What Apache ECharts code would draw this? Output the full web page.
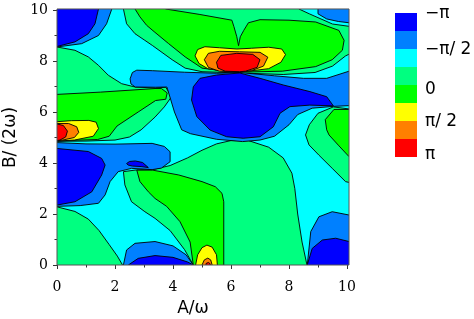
<!DOCTYPE html>
<html><head><meta charset="utf-8">
<script src="https://cdn.jsdelivr.net/npm/echarts@6/dist/echarts.min.js"></script>
<style>html,body{margin:0;padding:0;background:#fff}#c{width:474px;height:319px}</style>
</head><body><div id="c"></div><script>
// ---- data (A/ω , B/(2ω)) ----
const xTicks = [0, 2, 4, 6, 8, 10];
const yTicks = [0, 2, 4, 6, 8, 10];
const legendLabels = ['−π', '−π/ 2', '0', 'π/ 2', 'π'];
const levelColors = ['#0000ff', '#0080ff', '#00ffff', '#00ff80', '#00ff00', '#ffff00', '#ff8000', '#ff0000'];
// filled contour regions (boundary points in data units), level index 0 (−π) .. 7 (π)
const bgCyan = [[-1,-1],[11,-1],[11,11],[-1,11]];
const sgTop = [[2.27,10.4],[2.29,10.04],[2.4,9.46],[2.69,9.07],[3.03,8.81],[3.3,8.6],[3.97,8.05],[4.42,7.72],[5.0,7.58],[6.3,7.53],[7.8,7.47],[8.9,7.55],[9.5,7.8],[9.95,8.2],[10.4,8.45],[10.4,9.35],[10.07,9.36],[9.5,9.45],[9.0,9.7],[8.7,9.85],[8.34,10.04],[8.3,10.4]];
const sgLeft = [[-0.3,8.55],[0,8.55],[0.62,8.42],[1.08,8.16],[1.43,7.83],[1.77,7.44],[2.23,7.11],[2.69,6.98],[3.38,6.94],[3.75,6.97],[3.95,6.6],[3.7,6.2],[3.38,5.8],[2.9,5.3],[2.5,5.02],[2.0,4.9],[1.0,4.86],[0,4.85],[-0.3,4.85]];
const sgCenter = [[4.7,-0.3],[4.7,0],[4.4,0.6],[3.9,1.35],[3.38,1.83],[3.03,2.09],[2.57,2.48],[2.34,3.14],[2.29,3.66],[2.75,3.73],[3.3,3.74],[3.9,3.9],[4.5,4.2],[5.0,4.5],[5.5,4.75],[6.0,4.88],[6.6,4.88],[7.3,4.62],[7.8,4.2],[8.1,3.6],[8.2,3.0],[8.3,2.0],[8.45,0.9],[8.62,0],[8.62,-0.3]];
const sgRight = [[9.53,6.2],[9.0,5.95],[8.7,5.5],[8.57,5.1],[8.69,4.71],[9.03,4.31],[9.49,3.79],[9.95,3.27],[10.4,3.15],[10.4,6.12],[10.07,6.12]];
const sgBottomLeft = [[-0.3,2.3],[0,2.28],[0.62,2.1],[1.08,1.8],[1.45,1.35],[1.8,0.8],[2.08,0.35],[2.26,0],[2.26,-0.3],[-0.3,-0.3]];
const greenTop = [[2.67,10.4],[2.69,10.04],[2.86,9.73],[3.09,9.4],[3.35,9.15],[3.85,8.68],[4.42,8.16],[5.0,7.72],[5.6,7.63],[6.3,7.6],[6.62,7.57],[7.77,7.6],[8.92,7.78],[9.49,8.05],[9.84,8.42],[9.9,8.81],[9.72,9.2],[8.92,9.53],[8.0,9.6],[7.0,9.62],[6.6,9.5],[6.44,9.2],[6.32,8.95],[6.26,8.6],[6.2,8.95],[6.1,9.35],[6.03,9.6],[4.9,9.83],[3.74,10.04],[3.74,10.4]];
const greenLeft = [[-0.3,6.69],[0,6.69],[1.5,6.78],[3.38,6.92],[3.6,6.92],[3.8,6.75],[3.75,6.5],[3.4,6.45],[2.8,6.0],[2.07,5.45],[1.8,5.05],[1.4,4.92],[0,4.87],[-0.3,4.87]];
const greenBottom = [[2.75,3.72],[3.3,3.72],[4.2,3.53],[5.0,3.27],[5.46,3.07],[5.69,2.81],[5.75,2.48],[5.75,-0.3],[4.7,-0.3],[4.7,0],[4.59,0.9],[4.24,1.7],[3.78,2.3],[3.38,2.61],[3.15,2.87],[2.86,3.27]];
const greenRight = [[10.4,6.1],[9.55,6.1],[9.25,5.7],[9.3,5.3],[9.38,5.1],[9.7,4.7],[10.07,4.25],[10.4,4.2]];
const lbTopLeft = [[-0.3,10.4],[1.9,10.4],[1.89,10.04],[1.71,9.46],[1.43,9.0],[0.85,8.68],[0,8.55],[-0.3,8.55]];
const lbLeft = [[-0.3,4.8],[0,4.8],[1.0,4.75],[2.0,4.74],[3.28,4.77],[3.7,4.65],[3.9,4.44],[3.9,4.05],[3.6,3.8],[3.28,3.74],[2.57,3.79],[2.11,3.66],[1.83,3.27],[1.66,2.75],[1.43,2.42],[0.8,2.33],[0,2.3],[-0.3,2.3]];
const lbCenter = [[2.52,7.3],[2.6,7.55],[2.75,7.64],[3.3,7.62],[4.4,7.56],[5.5,7.52],[6.3,7.55],[7.5,7.42],[8.5,7.32],[9.3,7.32],[10.07,7.6],[10.4,7.62],[10.4,6.25],[10.07,6.25],[9.53,6.22],[8.8,6.15],[8.3,5.9],[8.0,5.5],[7.5,5.05],[7.0,4.9],[6.4,4.84],[5.5,4.93],[4.6,5.15],[4.3,5.3],[4.05,6.0],[3.79,6.98],[3.4,6.97],[2.7,6.98],[2.55,7.1]];
const lbTopRight = [[9.0,10.4],[9.0,9.85],[9.3,9.65],[9.7,9.55],[10.07,9.5],[10.4,9.5],[10.4,10.4]];
const lbBottomLeft = [[2.26,-0.3],[2.29,0],[2.4,0.59],[2.69,0.85],[3.38,0.92],[4.0,0.75],[4.45,0.4],[4.7,0],[4.7,-0.3]];
const lbBottomRight = [[8.62,-0.3],[8.63,0],[8.75,1.31],[9.03,1.89],[9.49,2.09],[10.07,1.96],[10.4,1.95],[10.4,-0.3]];
const blueTopLeft = [[-0.3,10.4],[1.45,10.4],[1.43,10.04],[1.31,9.46],[1.08,9.07],[0.62,8.75],[0,8.57],[-0.3,8.57]];
const blueLeft = [[-0.3,4.57],[0,4.57],[1.08,4.45],[1.54,4.18],[1.66,3.92],[1.54,3.53],[1.2,2.87],[0.62,2.48],[0,2.35],[-0.3,2.35]];
const blueSmall = [[2.4,3.98],[2.5,4.06],[2.7,4.08],[2.95,4.02],[3.15,3.82],[2.9,3.86],[2.6,3.88],[2.45,3.92]];
const blueCenter = [[4.93,7.32],[5.5,7.45],[6.3,7.53],[7.0,7.32],[7.8,7.06],[8.72,6.8],[9.3,6.6],[9.53,6.24],[8.72,6.27],[8.03,6.21],[7.69,5.95],[7.46,5.42],[7.0,5.03],[6.42,4.97],[5.85,5.03],[5.28,5.29],[4.82,5.82],[4.64,6.47],[4.7,6.99]];
const blueBottomLeft = [[2.44,-0.3],[2.46,0],[2.8,0.26],[3.38,0.37],[4.0,0.3],[4.5,0.12],[4.7,0],[4.7,-0.3]];
const blueBottomRight = [[8.62,-0.3],[8.63,0],[8.8,0.65],[9.15,0.98],[9.61,1.05],[10.07,0.92],[10.4,0.9],[10.4,-0.3]];
const yellowLeft = [[-0.3,5.62],[0,5.62],[0.5,5.66],[1.1,5.67],[1.35,5.6],[1.43,5.35],[1.25,5.05],[0.6,4.9],[0,4.86],[-0.3,4.86]];
const orangeLeft = [[-0.3,5.55],[0,5.55],[0.4,5.55],[0.68,5.42],[0.75,5.2],[0.6,5.0],[0.2,4.9],[0,4.87],[-0.3,4.87]];
const redLeft = [[-0.3,5.53],[0,5.53],[0.22,5.47],[0.36,5.25],[0.3,5.02],[0.1,4.9],[0,4.88],[-0.3,4.88]];
const yellowMid = [[4.76,8.2],[4.85,8.45],[5.1,8.56],[5.6,8.52],[6.2,8.47],[6.7,8.5],[7.3,8.54],[7.75,8.47],[7.88,8.25],[7.72,7.95],[7.3,7.7],[6.6,7.6],[6.3,7.58],[5.8,7.6],[5.2,7.7],[4.9,7.9]];
const orangeMid = [[5.08,8.05],[5.22,8.3],[5.6,8.38],[6.3,8.36],[7.0,8.34],[7.27,8.15],[7.12,7.8],[6.7,7.62],[6.3,7.58],[5.6,7.6],[5.22,7.75]];
const redMid = [[5.5,7.95],[5.65,8.22],[6.2,8.3],[6.75,8.26],[7.0,8.05],[6.9,7.75],[6.5,7.6],[6.3,7.58],[5.8,7.6],[5.55,7.72]];
const yellowBottom = [[4.76,-0.3],[4.78,0],[4.85,0.4],[5.0,0.68],[5.17,0.78],[5.35,0.7],[5.5,0.4],[5.53,0],[5.53,-0.3]];
const orangeBottom = [[4.98,-0.3],[5.0,0],[5.08,0.2],[5.2,0.27],[5.3,0.2],[5.35,0],[5.35,-0.3]];
const redBottom = [[5.12,-0.3],[5.14,0.06],[5.22,0.1],[5.28,0.05],[5.3,-0.3]];

const layers = [
  [2,bgCyan],[3,sgTop],[3,sgLeft],[3,sgCenter],[3,sgRight],[3,sgBottomLeft],
  [4,greenTop],[4,greenLeft],[4,greenBottom],[4,greenRight],
  [1,lbTopLeft],[1,lbLeft],[1,lbCenter],[1,lbTopRight],[1,lbBottomLeft],[1,lbBottomRight],
  [0,blueTopLeft],[0,blueLeft],[0,blueSmall],[0,blueCenter],[0,blueBottomLeft],[0,blueBottomRight],
  [5,yellowLeft],[6,orangeLeft],[7,redLeft],[5,yellowMid],[6,orangeMid],[7,redMid],
  [5,yellowBottom],[6,orangeBottom],[7,redBottom]
];
const frameMax = [10.07, 10.04];

const chart = echarts.init(document.getElementById('c'), null, {renderer: 'canvas'});
function clipRect(api) {
  const p0 = api.coord([0, 0]), p1 = api.coord(frameMax);
  return {type: 'rect', shape: {x: p0[0], y: p1[1], width: p1[0] - p0[0], height: p0[1] - p1[1]}};
}
const labelFont = {fontFamily: 'DejaVu Serif', fontSize: 14, color: '#000'};
const tickStyle = {color: '#333', width: 1};
chart.setOption({
  animation: false,
  grid: {left: 57, right: 127, top: 10, bottom: 54, containLabel: false, outerBoundsMode: 'none'},
  xAxis: {
    type: 'value', min: xTicks[0], max: xTicks[xTicks.length - 1], interval: 2,
    axisLine: {show: false}, splitLine: {show: false},
    axisTick: {show: true, length: 4, lineStyle: tickStyle},
    minorTick: {show: true, splitNumber: 2, length: 2.5, lineStyle: tickStyle},
    axisLabel: Object.assign({margin: 15}, labelFont),
    name: 'A/ω', nameLocation: 'middle', nameGap: 35,
    nameTextStyle: {fontFamily: 'DejaVu Sans', fontSize: 17, color: '#000', padding: [0, 18, 0, 0]}
  },
  yAxis: {
    type: 'value', min: yTicks[0], max: yTicks[yTicks.length - 1], interval: 2,
    axisLine: {show: false}, splitLine: {show: false},
    axisTick: {show: true, length: 4, lineStyle: tickStyle},
    minorTick: {show: true, splitNumber: 2, length: 2.5, lineStyle: tickStyle},
    axisLabel: Object.assign({margin: 9}, labelFont),
    name: 'B/ (2ω)', nameLocation: 'middle', nameGap: 38,
    nameTextStyle: {fontFamily: 'DejaVu Sans', fontSize: 17, color: '#000'}
  },
  series: [{
    type: 'custom', coordinateSystem: 'cartesian2d', clip: false, z: 2,
    data: layers.map((l, i) => ({value: [0, 0], name: String(i)})),
    renderItem: function (params, api) {
      const layer = layers[params.dataIndex];
      const pts = layer[1].map(p => api.coord(p));
      return {
        type: 'polygon', shape: {points: pts},
        clipPath: clipRect(api),
        style: {fill: levelColors[layer[0]], stroke: params.dataIndex === 0 ? null : '#000', lineWidth: 0.9}
      };
    }
  }, {
    type: 'custom', coordinateSystem: 'cartesian2d', clip: false, z: 5,
    data: [[0, 0]],
    renderItem: function (params, api) {
      const r = clipRect(api);
      return {type: 'rect', shape: r.shape, style: {fill: null, stroke: '#555', lineWidth: 1}};
    }
  }],
  graphic: [].concat(
    levelColors.map((c, i) => ({type: 'rect', shape: {x: 395, y: 13 + 18 * i, width: 22, height: 18}, style: {fill: c}})),
    legendLabels.map((t, i) => ({type: 'text', x: 425, y: [13.5, 50, 90, 122, 155][i],
      style: {text: t, fontFamily: 'DejaVu Sans', fontSize: 17, fill: '#000', verticalAlign: 'middle', textVerticalAlign: 'middle'}}))
  )
});
</script></body></html>
